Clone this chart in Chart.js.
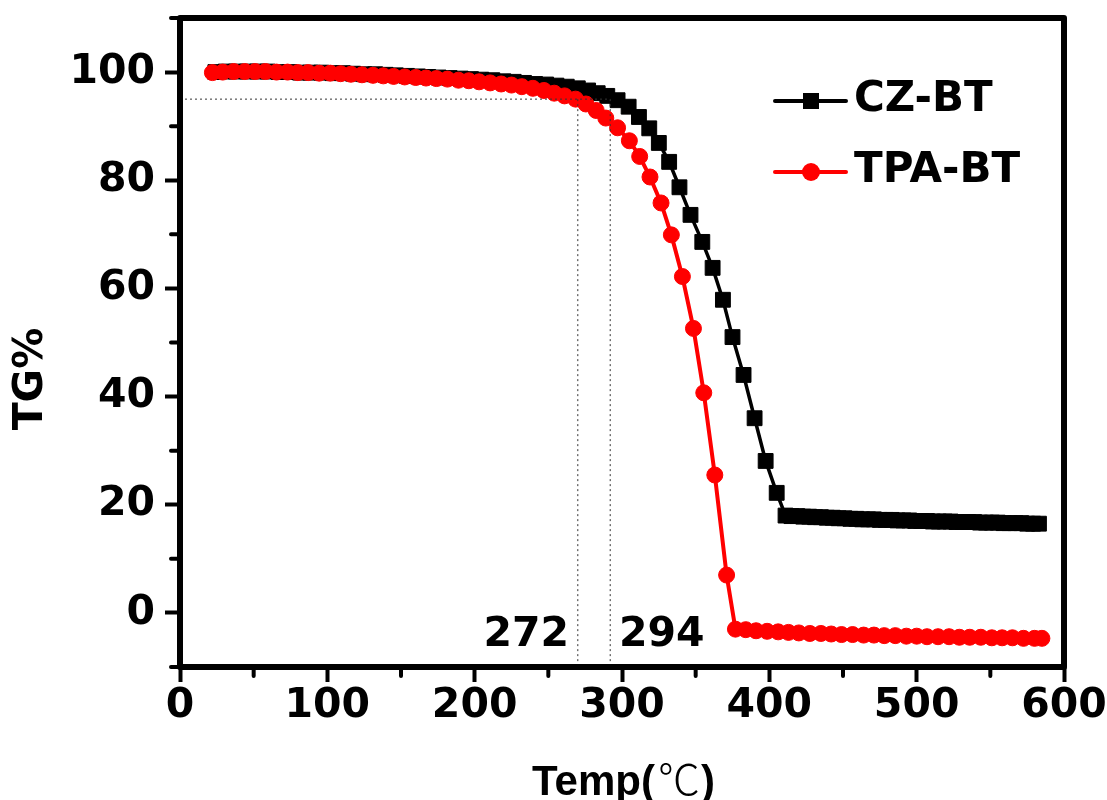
<!DOCTYPE html>
<html lang="en">
<head>
    <meta charset="UTF-8">
    <title>TG curves</title>
    <script src="https://cdn.jsdelivr.net/npm/chart.js@4.4.0/dist/chart.umd.min.js"></script>
    <style>
        body { margin: 0; background: #fff; }
        canvas { display: block; }
    </style>
</head>
<body>
    <canvas id="chart" width="1107" height="800"></canvas>

    <script>
        // axis ticks
        const xTicks = [0, 100, 200, 300, 400, 500, 600];
        const yTicks = [0, 20, 40, 60, 80, 100];
        const xMinorTicks = [50, 150, 250, 350, 450, 550];
        const yMinorTicks = [-10, 10, 30, 50, 70, 90, 110];

        // CZ-BT (black squares)
        const czTemp = [24, 31, 38, 45.5, 52.5, 59.5, 67, 74.5, 81.5, 88.5, 96, 103.5, 110.5, 117.5, 125, 132.5,
            139.5, 146.5, 154, 161.5, 168.5, 175.5, 183, 190.5, 197.5, 204.5, 212, 219.5, 226.5, 233.5, 241,
            248.5, 255.5, 262.5, 270, 277, 283.5, 290, 297, 304.5, 311.5, 318.5, 325, 332, 339, 346.5, 354.5,
            361.5, 368.5, 375, 382.5, 390, 397.5, 405,
            411, 415, 419, 423, 427, 431, 435, 439, 443, 447, 451, 455, 459, 463, 467, 471, 475, 479, 483, 487,
            491, 495, 499, 503, 507, 511, 515, 519, 523, 527, 531, 535, 539, 543, 547, 551, 555, 559, 563, 567,
            571, 575, 579, 583];
        const czTG = [100.0, 100.1, 100.1, 100.1, 100.1, 100.1, 100.0, 100.0, 99.9, 99.9, 99.9, 99.8, 99.8, 99.7,
            99.6, 99.6, 99.5, 99.4, 99.3, 99.2, 99.1, 99.0, 98.9, 98.8, 98.7, 98.6, 98.5, 98.3, 98.2, 98.0, 97.8,
            97.7, 97.5, 97.3, 97.0, 96.6, 96.1, 95.6, 94.8, 93.6, 91.7, 89.6, 86.9, 83.4, 78.7, 73.6, 68.6, 63.8,
            57.9, 51.0, 44.0, 36.0, 28.1, 22.2,
            18.0, 17.9, 17.9, 17.8, 17.8, 17.7, 17.7, 17.6, 17.6, 17.5, 17.5, 17.4, 17.4, 17.3, 17.3, 17.3, 17.2,
            17.2, 17.2, 17.1, 17.1, 17.1, 17.0, 17.0, 17.0, 16.9, 16.9, 16.9, 16.9, 16.8, 16.8, 16.8, 16.8, 16.7,
            16.7, 16.7, 16.7, 16.6, 16.6, 16.6, 16.6, 16.5, 16.5, 16.5];

        // TPA-BT (red circles)
        const tpaTemp = [22, 29, 36.5, 44, 51, 58, 65.5, 73, 80, 87, 94.5, 102, 109, 116, 123.5, 131, 138, 145,
            152.5, 160, 167, 174, 181.5, 189, 196, 203, 210.5, 218, 225, 232, 239.5, 247, 254, 261, 268.5,
            275.5, 282.5, 289, 297, 305, 312, 319, 326.5, 333.5, 341, 348.5, 355.5, 363, 371, 377,
            384, 391, 398.5, 406, 413, 420, 427.5, 435, 442, 449, 456.5, 464, 471, 478, 485.5, 493, 500, 507,
            514.5, 522, 529, 536, 543.5, 551, 558, 565, 572.5, 580, 585];
        const tpaTG = [99.9, 100.0, 100.1, 100.1, 100.1, 100.1, 100.0, 100.0, 99.9, 99.9, 99.8, 99.8, 99.7, 99.6,
            99.5, 99.4, 99.3, 99.2, 99.1, 99.0, 98.9, 98.8, 98.7, 98.5, 98.4, 98.2, 98.0, 97.8, 97.6, 97.3, 97.0,
            96.6, 96.1, 95.6, 95.0,
            94.1, 92.9, 91.5, 89.7, 87.3, 84.4, 80.6, 75.8, 69.9, 62.2, 52.6, 40.7, 25.5, 7.0, -3.0,
            -3.1, -3.3, -3.4, -3.5, -3.6, -3.7, -3.8, -3.8, -3.9, -4.0, -4.0, -4.1, -4.1, -4.2, -4.2, -4.3, -4.3,
            -4.4, -4.4, -4.4, -4.5, -4.5, -4.5, -4.6, -4.6, -4.6, -4.7, -4.7, -4.7];

        // 5% weight loss guides and their labels
        const lossLevel = 95;
        const onsetLines = [270, 292];
        const onsetLabels = ['272', '294'];
        const onsetLabelX = [264, 298];
        const onsetLabelY = -6.2;

        const pts = (xs, ys) => xs.map((v, i) => ({ x: v, y: ys[i] }));
        const bold = size => 'bold ' + size + 'px "DejaVu Sans"';

        const guideStyle = {
            borderColor: '#333',
            borderWidth: 1,
            borderDash: [2, 3],
            pointRadius: 0,
            order: 0
        };

        const decor = {
            id: 'decor',
            afterDraw(chart) {
                const ctx = chart.ctx;
                const a = chart.chartArea;
                const x = chart.scales.x;
                const y = chart.scales.y;
                ctx.save();

                // frame
                ctx.strokeStyle = '#000';
                ctx.lineWidth = 6;
                ctx.lineJoin = 'round';
                ctx.strokeRect(a.left, a.top, a.right - a.left, a.bottom - a.top);

                // minor ticks
                ctx.lineWidth = 4;
                ctx.lineCap = 'round';
                ctx.beginPath();
                xMinorTicks.forEach(v => {
                    const px = x.getPixelForValue(v);
                    ctx.moveTo(px, a.bottom);
                    ctx.lineTo(px, a.bottom + 9);
                });
                yMinorTicks.forEach(v => {
                    const py = y.getPixelForValue(v);
                    ctx.moveTo(a.left, py);
                    ctx.lineTo(a.left - 9, py);
                });
                ctx.stroke();

                // onset labels
                ctx.fillStyle = '#000';
                ctx.font = bold(41);
                ctx.textBaseline = 'alphabetic';
                onsetLabels.forEach((t, i) => {
                    ctx.textAlign = i === 0 ? 'right' : 'left';
                    ctx.fillText(t, x.getPixelForValue(onsetLabelX[i]), y.getPixelForValue(onsetLabelY));
                });

                // legend
                const rows = [
                    { text: 'CZ-BT', color: '#000', y: 101, shape: 'rect' },
                    { text: 'TPA-BT', color: '#ff0000', y: 172, shape: 'circle' }
                ];
                rows.forEach(r => {
                    ctx.strokeStyle = r.color;
                    ctx.fillStyle = r.color;
                    ctx.lineWidth = 4;
                    ctx.beginPath();
                    ctx.moveTo(775, r.y);
                    ctx.lineTo(846, r.y);
                    ctx.stroke();
                    if (r.shape === 'rect') {
                        ctx.fillRect(803, r.y - 8, 16, 16);
                    } else {
                        ctx.beginPath();
                        ctx.arc(811, r.y, 9, 0, Math.PI * 2);
                        ctx.fill();
                    }
                    ctx.fillStyle = '#000';
                    ctx.font = bold(42);
                    ctx.textAlign = 'left';
                    ctx.textBaseline = 'middle';
                    ctx.fillText(r.text, 854, r.y - 1);
                });

                // y title
                ctx.save();
                ctx.translate(31, 379);
                ctx.rotate(-Math.PI / 2);
                ctx.textAlign = 'center';
                ctx.textBaseline = 'middle';
                ctx.font = bold(41);
                ctx.fillText('TG%', 0, 0);
                ctx.restore();

                // x title: bold text with a thin degree sign
                ctx.textAlign = 'left';
                ctx.textBaseline = 'alphabetic';
                let cx = 532;
                const base = 795;
                ctx.font = 'bold 42px "Liberation Sans"';
                ctx.fillText('Temp(', cx, base);
                cx += ctx.measureText('Temp(').width + 3;
                ctx.font = '300 42px "Noto Sans CJK SC"';
                ctx.fillText('℃', cx, base);
                cx += ctx.measureText('℃').width + 1;
                ctx.font = 'bold 42px "Liberation Sans"';
                ctx.fillText(')', cx, base);

                ctx.restore();
            }
        };

        const tickFont = { family: 'DejaVu Sans', weight: 'bold', size: 41 };
        const axisGrid = {
            drawOnChartArea: false,
            drawTicks: true,
            tickLength: 15,
            tickWidth: 4,
            tickColor: '#000'
        };

        new Chart(document.getElementById('chart'), {
            type: 'line',
            data: {
                datasets: [
                    {
                        label: 'CZ-BT',
                        data: pts(czTemp, czTG),
                        borderColor: '#000',
                        backgroundColor: '#000',
                        pointBackgroundColor: '#000',
                        pointBorderColor: '#000',
                        borderWidth: 3.5,
                        pointStyle: 'rect',
                        pointRadius: 10.5,
                        pointBorderWidth: 1,
                        order: 2
                    },
                    {
                        label: 'TPA-BT',
                        data: pts(tpaTemp, tpaTG),
                        borderColor: '#ff0000',
                        backgroundColor: '#ff0000',
                        pointBackgroundColor: '#ff0000',
                        pointBorderColor: '#ff0000',
                        borderWidth: 4,
                        pointStyle: 'circle',
                        pointRadius: 8,
                        pointBorderWidth: 1,
                        order: 1
                    },
                    Object.assign({ label: 'level', data: [{ x: 0, y: lossLevel }, { x: onsetLines[1], y: lossLevel }] }, guideStyle),
                    Object.assign({ label: 'on1', data: [{ x: onsetLines[0], y: lossLevel }, { x: onsetLines[0], y: -10 }] }, guideStyle),
                    Object.assign({ label: 'on2', data: [{ x: onsetLines[1], y: lossLevel }, { x: onsetLines[1], y: -10 }] }, guideStyle)
                ]
            },
            options: {
                responsive: false,
                animation: false,
                devicePixelRatio: 1,
                layout: { padding: { left: 0, top: 18, right: 43, bottom: 0 } },
                plugins: {
                    legend: { display: false },
                    tooltip: { enabled: false }
                },
                scales: {
                    x: {
                        type: 'linear',
                        min: 0,
                        max: 600,
                        afterBuildTicks: s => { s.ticks = xTicks.map(v => ({ value: v })); },
                        afterFit: s => { s.height = 133; s.paddingLeft = 0; s.paddingRight = 0; },
                        grid: axisGrid,
                        border: { display: false },
                        ticks: { font: tickFont, color: '#000', padding: 0, maxRotation: 0, autoSkip: false }
                    },
                    y: {
                        type: 'linear',
                        min: -10,
                        max: 110,
                        afterBuildTicks: s => { s.ticks = yTicks.map(v => ({ value: v })); },
                        afterFit: s => { s.width = 180; s.paddingTop = 0; s.paddingBottom = 0; },
                        grid: axisGrid,
                        border: { display: false },
                        ticks: { font: tickFont, color: '#000', padding: 10 }
                    }
                }
            },
            plugins: [decor]
        });
    </script>
</body>
</html>
